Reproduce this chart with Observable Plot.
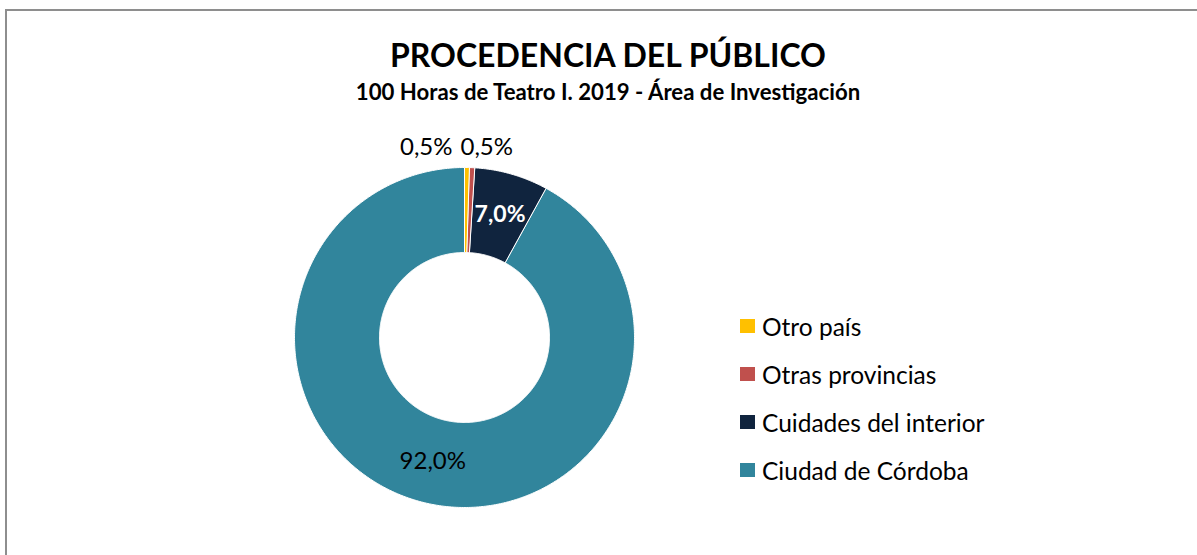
<!DOCTYPE html>
<html>
<head>
<meta charset="utf-8">
<script src="https://cdn.jsdelivr.net/npm/d3@7"></script>
<script src="https://cdn.jsdelivr.net/npm/@observablehq/plot@0.6"></script>
<style>
  html, body { margin: 0; padding: 0; background: #fff; overflow: hidden; width: 1197px; height: 555px; }
  #frame { position: absolute; left: 5px; top: 9px; width: 1230px; height: 600px; border: 2px solid #8e8e8e; box-sizing: border-box; }
  #title { position: absolute; left: 0; width: 1216px; top: 37px; text-align: center; font-family: Lato, sans-serif; font-weight: 700; font-size: 32px; line-height: 36px; color: #000; }
  #subtitle { position: absolute; left: 0; width: 1216px; top: 80px; text-align: center; font-family: Lato, sans-serif; font-weight: 700; font-size: 22.2px; line-height: 24px; color: #000; }
  #chart { position: absolute; left: 0; top: 110px; }
  #legend { position: absolute; left: 740px; top: 302px; font-family: Lato, sans-serif; font-size: 24.5px; color: #000; }
  .row { display: flex; align-items: center; height: 48px; }
  .sw { width: 15px; height: 14px; margin-right: 7px; }
</style>
</head>
<body>
<div id="frame"></div>
<div id="title">PROCEDENCIA DEL PÚBLICO</div>
<div id="subtitle">100 Horas de Teatro I. 2019 - Área de Investigación</div>
<div id="chart"></div>
<div id="legend"></div>
<script>
const categories = ["Otro país", "Otras provincias", "Cuidades del interior", "Ciudad de Córdoba"];
const values = [0.5, 0.5, 7.0, 92.0];
const colors = ["#FFC000", "#C0504D", "#10243E", "#31859C"];
const labels = ["0,5%", "0,5%", "7,0%", "92,0%"];

const data = categories.map((c, i) => ({cat: c, value: values[i], label: labels[i]}));
const arcs = d3.pie().sort(null).value(d => d.value)(data);
const inner = 0.5;

// polygon points for each ring slice
const pts = [];
for (const a of arcs) {
  const n = Math.max(4, Math.ceil((a.endAngle - a.startAngle) / 0.01));
  for (let i = 0; i <= n; i++) {
    const t = a.startAngle + (a.endAngle - a.startAngle) * i / n;
    pts.push({cat: a.data.cat, x: Math.sin(t), y: Math.cos(t)});
  }
  for (let i = n; i >= 0; i--) {
    const t = a.startAngle + (a.endAngle - a.startAngle) * i / n;
    pts.push({cat: a.data.cat, x: inner * Math.sin(t), y: inner * Math.cos(t)});
  }
}

const labelPos = arcs.map((a, i) => {
  const m = (a.startAngle + a.endAngle) / 2;
  const r = a.data.value < 2 ? 1.12 : (1 + inner) / 2;
  return {cat: a.data.cat, label: a.data.label, x: r * Math.sin(m), y: r * Math.cos(m), idx: i};
});

const plot = Plot.plot({
  width: 1197,
  height: 445,
  marginLeft: 294,
  marginRight: 563,
  marginTop: 57,
  marginBottom: 48,
  x: {domain: [-1, 1], axis: null},
  y: {domain: [-1, 1], axis: null},
  color: {domain: categories, range: colors},
  style: {background: "transparent", fontFamily: "Lato, sans-serif"},
  marks: [
    Plot.line(pts, {x: "x", y: "y", z: "cat", fill: "cat", stroke: "white", strokeWidth: 1, curve: "linear-closed"}),
    Plot.text(labelPos.filter(d => d.idx === 0), {x: "x", y: "y", text: "label", textAnchor: "end", dx: -15, fontSize: 24, fill: "black"}),
    Plot.text(labelPos.filter(d => d.idx === 1), {x: "x", y: "y", text: "label", textAnchor: "start", dx: -13, fontSize: 24, fill: "black"}),
    Plot.text(labelPos.filter(d => d.idx === 2), {x: "x", y: "y", text: "label", fontSize: 23, fontWeight: "bold", fill: "white"}),
    Plot.text(labelPos.filter(d => d.idx === 3), {x: "x", y: "y", text: "label", fontSize: 24, fill: "black"})
  ]
});
document.getElementById("chart").appendChild(plot);

const legend = document.getElementById("legend");
categories.forEach((c, i) => {
  const row = document.createElement("div");
  row.className = "row";
  const sw = document.createElement("div");
  sw.className = "sw";
  sw.style.background = colors[i];
  const tx = document.createElement("span");
  tx.textContent = c;
  row.appendChild(sw);
  row.appendChild(tx);
  legend.appendChild(row);
});
</script>
</body>
</html>
